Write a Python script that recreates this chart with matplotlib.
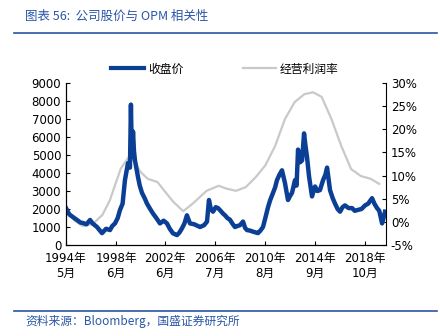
import numpy as np
import matplotlib.pyplot as plt
import matplotlib.lines as mlines

plt.rcParams['font.family'] = ['DejaVu Sans', 'Noto Sans CJK SC']

# 收盘价 (年份小数, 价格)
prix_t = [1994.33, 1994.6, 1994.9, 1995.23, 1995.5, 1995.72, 1996.0, 1996.29, 1996.5, 1996.86,
          1997.1, 1997.27, 1997.6, 1997.92, 1998.1, 1998.33, 1998.55, 1998.74, 1998.95, 1999.14,
          1999.39, 1999.55, 1999.63, 1999.68, 1999.72, 1999.8, 1999.88, 1999.96, 2000.04, 2000.2,
          2000.35, 2000.53, 2000.75, 2000.94, 2001.2, 2001.43, 2001.7, 2002.0, 2002.3, 2002.57,
          2002.8, 2003.06, 2003.39, 2003.6, 2003.8, 2004.0, 2004.2, 2004.45, 2004.8, 2005.27,
          2005.6, 2005.84, 2006.0, 2006.15, 2006.33, 2006.55, 2006.74, 2006.95, 2007.14, 2007.31,
          2007.5, 2007.72, 2007.9, 2008.12, 2008.3, 2008.53, 2008.78, 2008.95, 2009.1, 2009.35,
          2009.6, 2009.8, 2010.0, 2010.2, 2010.41, 2010.6, 2010.82, 2011.0, 2011.23, 2011.4,
          2011.55, 2011.75, 2011.96, 2012.2, 2012.45, 2012.6, 2012.78, 2013.02, 2013.15, 2013.27,
          2013.45, 2013.6, 2013.76, 2013.88, 2014.0, 2014.17, 2014.41, 2014.66, 2014.85, 2015.06,
          2015.31, 2015.5, 2015.64, 2015.88, 2016.1, 2016.29, 2016.5, 2016.7, 2016.9, 2017.1,
          2017.4, 2017.68, 2017.9, 2018.16, 2018.45, 2018.74, 2019.0, 2019.31, 2019.5, 2019.72,
          2019.9, 2020.13, 2020.25, 2020.37]
prix = [2050, 1700, 1550, 1390, 1250, 1220, 1150, 1390, 1200, 1000,
        800, 660, 900, 830, 1050, 1200, 1500, 1950, 2300, 3600,
        4550, 4300, 7800, 5800, 4900, 6300, 5200, 4700, 4400, 3800,
        3300, 2900, 2600, 2300, 2000, 1750, 1500, 1200, 1350, 1200,
        900, 650, 550, 700, 930, 1200, 1650, 1200, 1150, 1000,
        1100, 1300, 2500, 2000, 1850, 2100, 2050, 1900, 1750, 1650,
        1500, 1400, 1200, 1000, 1050, 1100, 1300, 950, 830, 800,
        740, 700, 660, 800, 1000, 1500, 2100, 2500, 2900, 3200,
        3600, 3900, 4150, 3450, 2500, 2700, 2900, 3600, 3300, 5300,
        4600, 4700, 6200, 5500, 4900, 3800, 2700, 3250, 3000, 3050,
        3600, 3900, 4300, 3050, 2600, 2300, 2000, 1850, 2100, 2200,
        2050, 2050, 1900, 1950, 2000, 2200, 2300, 2600, 2300, 2050,
        1900, 1200, 1500, 1850]

# 经营利润率 (%)
opm_t = [1994.5, 1995.0, 1995.7, 1996.5, 1997.3, 1997.9, 1998.8, 1999.4, 1999.9, 2000.4,
         2001.0, 2001.8, 2002.3, 2003.1, 2003.9, 2004.7, 2005.8, 2006.8, 2007.4, 2008.2,
         2009.0, 2009.8, 2010.6, 2011.4, 2012.2, 2013.0, 2013.8, 2014.5, 2015.2, 2016.0,
         2016.8, 2017.6, 2018.4, 2019.2, 2019.9]
opm = [2.2, 0.3, -0.9, -0.5, 1.5, 4.6, 11.5, 13.8, 13.2, 10.8,
       9.3, 8.6, 6.9, 4.3, 2.3, 4.0, 6.7, 7.8, 7.2, 6.7,
       7.5, 9.6, 12.2, 16.4, 22.2, 25.9, 27.6, 28.0, 27.0, 22.2,
       16.4, 11.4, 9.9, 9.3, 8.2]

tick_pos = [1994.33, 1998.42, 2002.42, 2006.5, 2010.58, 2014.67, 2018.75]
tick_lab = ['1994年\n5月', '1998年\n6月', '2002年\n6月', '2006年\n7月',
            '2010年\n8月', '2014年\n9月', '2018年\n10月']

bleu = '#0b3f96'
gris = '#c9c9c9'
titre_c = '#2a56a6'

fig = plt.figure(figsize=(4.4, 3.36), dpi=100)
ax = fig.add_axes([66 / 440, 1 - 245 / 336, 320 / 440, 162 / 336])
ax2 = ax.twinx()

ax2.plot(opm_t, opm, color=gris, lw=1.6)
ax.plot(prix_t, prix, color=bleu, lw=3.2, solid_joinstyle='round')
ax.set_zorder(ax2.get_zorder() + 1)
ax.patch.set_visible(False)

ax.set_xlim(1994.33, 2020.45)
ax.set_ylim(0, 9000)
ax.set_yticks(range(0, 9001, 1000))
ax2.set_ylim(-5, 30)
ax2.set_yticks(range(-5, 31, 5))
ax2.set_yticklabels([f'{v}%' for v in range(-5, 31, 5)])
ax.set_xticks(tick_pos)
ax.set_xticklabels(tick_lab)

for a in (ax, ax2):
    a.spines['top'].set_visible(False)
    a.tick_params(direction='in', length=3, labelsize=8.5, colors='black')
ax.tick_params(axis='x', pad=5)
ax.spines['right'].set_visible(False)

h1 = mlines.Line2D([], [], color=bleu, lw=3)
h2 = mlines.Line2D([], [], color=gris, lw=1.6)
fig.legend([h1, h2], ['收盘价', '经营利润率'], loc='center', bbox_to_anchor=(225 / 440, 1 - 69 / 336),
           ncol=2, frameon=False, handlelength=2.8, handletextpad=0.35, columnspacing=5.0,
           prop={'family': 'Noto Sans CJK SC', 'size': 8.5})

fig.text(25 / 440, 1 - 16 / 336, '图表 56:  公司股价与 OPM 相关性', color=titre_c, fontsize=9,
         style='italic', va='center', family=['Noto Sans CJK SC', 'DejaVu Sans'])
fig.add_artist(mlines.Line2D([14 / 440, 437 / 440], [1 - 33 / 336] * 2, color=titre_c, lw=1.2))
fig.add_artist(mlines.Line2D([14 / 440, 437 / 440], [1 - 311 / 336] * 2, color=titre_c, lw=1.2))
fig.text(25 / 440, 1 - 321 / 336, '资料来源：Bloomberg，国盛证券研究所', color=titre_c, fontsize=8.5,
         style='italic', va='center', family=['Noto Sans CJK SC', 'DejaVu Sans'])

fig.savefig('out.png', dpi=100)
